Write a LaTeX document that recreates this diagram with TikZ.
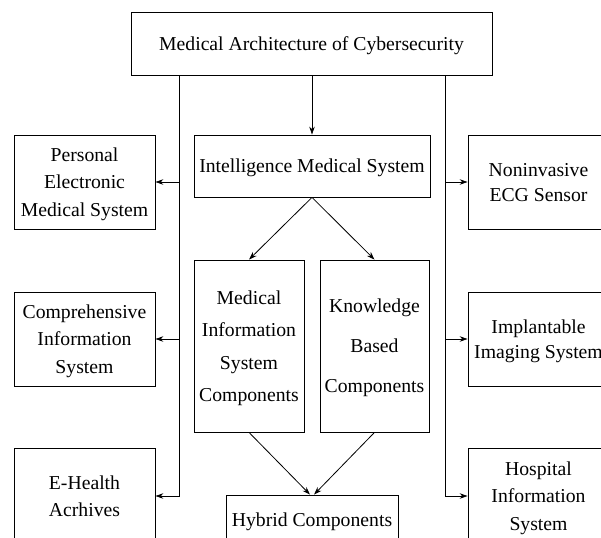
\documentclass[tikz,border=0pt]{standalone}
\usepackage{fontspec}
\setmainfont{Liberation Serif}
\usetikzlibrary{arrows.meta}
\begin{document}
\begin{tikzpicture}[x=1pt,y=-1pt,
  box/.style={draw,line width=0.8pt,rectangle,inner sep=0pt,align=center,text depth=0pt,
    font=\rmfamily\fontsize{19.7}{27.5}\selectfont},
  link/.style={line width=0.8pt,-{Stealth[length=8pt,width=5.5pt]}}]
\useasboundingbox (0,0) rectangle (601,537);

% top and central column
\node[box,minimum width=361pt,minimum height=63pt] (top) at (311.5,43.5) {Medical Architecture of Cybersecurity};
\node[box,minimum width=236pt,minimum height=62pt] (ims) at (312,166) {Intelligence Medical System};
\node[box,minimum width=110pt,minimum height=172pt,font=\rmfamily\fontsize{19.7}{32.5}\selectfont] (misc) at (249,346) {Medical\\Information\\System\\Components};
\node[box,minimum width=109pt,minimum height=172pt,font=\rmfamily\fontsize{19.7}{40}\selectfont] (kbc) at (374.5,346) {Knowledge\\Based\\Components};
\node[box,minimum width=172pt,minimum height=50pt] (hyb) at (312,520) {Hybrid Components};

% left column
\node[box,minimum width=141pt,minimum height=94pt] (pems) at (84.5,182) {Personal\\Electronic\\Medical System};
\node[box,minimum width=141pt,minimum height=94pt] (cis) at (84.5,339) {Comprehensive\\Information\\System};
\node[box,minimum width=141pt,minimum height=96pt] (eha) at (84.5,496) {E-Health\\Acrhives};

% right column
\node[box,minimum width=141pt,minimum height=94pt,font=\rmfamily\fontsize{19.7}{25}\selectfont] (ecg) at (538.5,182) {Noninvasive\\ECG Sensor};
\node[box,minimum width=141pt,minimum height=94pt,font=\rmfamily\fontsize{19.7}{25}\selectfont] (iis) at (538.5,339) {Implantable\\Imaging System};
\node[box,minimum width=141pt,minimum height=96pt] (his) at (538.5,496) {Hospital\\Information\\System};

% bus lines
\coordinate (busL) at (179,0);
\coordinate (busR) at (445,0);

\draw[link] (top.south -| busL) |- (eha.east);
\draw[link] (busL |- pems.east) -- (pems.east);
\draw[link] (busL |- cis.east) -- (cis.east);

\draw[link] (top.south -| busR) |- (his.west);
\draw[link] (busR |- ecg.west) -- (ecg.west);
\draw[link] (busR |- iis.west) -- (iis.west);

% central flow
\draw[link] (top.south -| ims.north) -- (ims.north);
\draw[link] (ims.south) -- (misc.north);
\draw[link] (ims.south) -- (kbc.north);
\draw[link] (misc.south) -- ([xshift=-2pt]hyb.north);
\draw[link] (kbc.south) -- ([xshift=2pt]hyb.north);
\end{tikzpicture}
\end{document}
